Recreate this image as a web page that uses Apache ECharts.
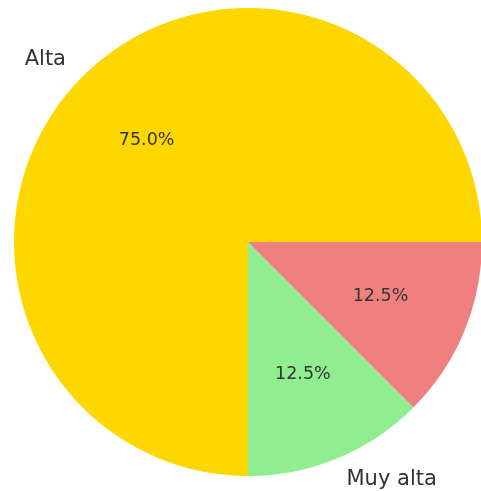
<!DOCTYPE html>
<html>
<head>
<meta charset="utf-8">
<script src="https://cdn.jsdelivr.net/npm/echarts@6/dist/echarts.min.js"></script>
<style>
  html, body { margin: 0; padding: 0; background: #fff; }
  #chart { width: 481px; height: 491px; }
</style>
</head>
<body>
<div id="chart"></div>
<script>
// 数据
const categories = ['Alta', 'Muy alta', ''];
const values = [75, 12.5, 12.5];
const colors = ['#FFD700', '#90EE90', '#F08080'];

const R = 234;
const center = [248, 242];

const chart = echarts.init(document.getElementById('chart'));

const slices = categories.map((name, i) => ({
    name: name || ('_' + i),
    value: values[i],
    itemStyle: { color: colors[i] }
}));

const option = {
    animation: false,
    series: [
        {
            // 扇形 + 外部名称
            type: 'pie',
            center: center,
            radius: [0, R],
            startAngle: 0,
            clockwise: false,
            silent: true,
            data: slices,
            label: {
                show: true,
                position: 'outside',
                formatter: p => (p.name.charAt(0) === '_' ? '' : p.name),
                fontFamily: 'DejaVu Sans',
                fontSize: 21,
                color: '#333',
                distanceToLabelLine: 0
            },
            labelLine: { show: false, length: R * 0.1, length2: 0 },
            avoidLabelOverlap: false
        },
        {
            // 百分比标签 (0.6R)
            type: 'pie',
            center: center,
            radius: [0, R * 1.2],
            startAngle: 0,
            clockwise: false,
            silent: true,
            data: slices.map(s => ({ name: s.name, value: s.value, itemStyle: { color: 'rgba(0,0,0,0)' } })),
            label: {
                show: true,
                position: 'inner',
                formatter: p => p.value.toFixed(1) + '%',
                fontFamily: 'DejaVu Sans',
                fontSize: 17.5,
                color: '#333'
            },
            labelLine: { show: false }
        }
    ]
};

chart.setOption(option);
</script>
</body>
</html>
